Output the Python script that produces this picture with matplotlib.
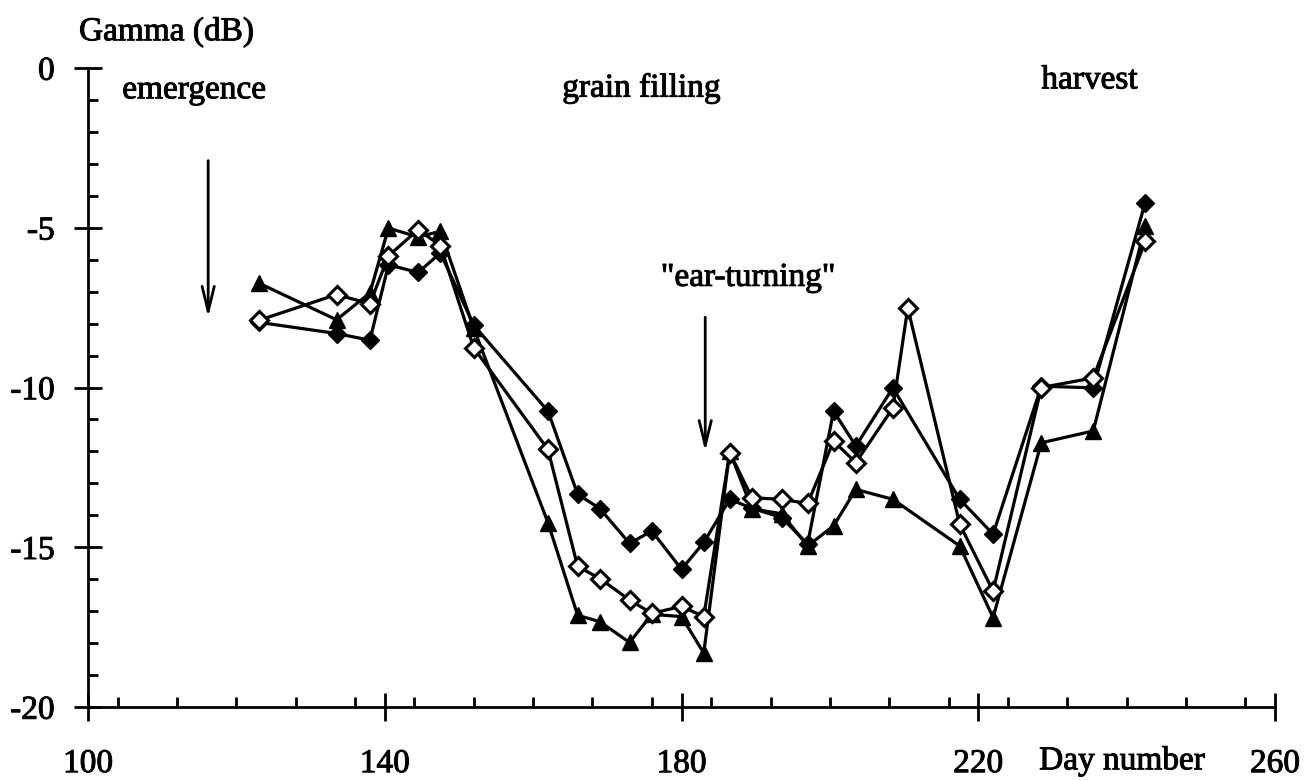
import matplotlib
matplotlib.use("Agg")
import matplotlib.pyplot as plt
import matplotlib.patheffects as pe
from matplotlib.ticker import MultipleLocator, FixedLocator

plt.rcParams["font.family"] = ["Liberation Serif", "DejaVu Serif"]
plt.rcParams["axes.unicode_minus"] = False

# sampling days and backscatter (dB) for the three fields
days = [123, 133.5, 138, 140.5, 144.5, 147.5, 152, 162, 166, 169, 173, 176,
        180, 183, 186.5, 189.5, 193.5, 197, 200.5, 203.5, 208.5, 217.5, 222,
        228.5, 235.5, 242.5]
gamma_filled = [-7.96, -8.31, -8.52, -6.16, -6.40, -5.79, -8.05, -10.74,
                -13.34, -13.79, -14.88, -14.49, -15.69, -14.85, -13.5, -13.78,
                -14.07, -14.9, -10.74, -11.83, -10.01, -13.5, -14.59, -9.96,
                -10.01, -4.21]
gamma_triangle = [-6.73, -7.88, -7.04, -5.01, -5.29, -5.11, -8.15, -14.23,
                  -17.13, -17.33, -17.98, -17.1, -17.17, -18.31, -12.0, -13.8,
                  -13.95, -14.96, -14.33, -13.19, -13.5, -14.96, -17.2, -11.73,
                  -11.36, -4.96]

# the open-diamond field has one extra date (210.5)
days_open = [123, 133.5, 138, 140.5, 144.5, 147.5, 152, 162, 166, 169, 173,
             176, 180, 183, 186.5, 189.5, 193.5, 197, 200.5, 203.5, 208.5,
             210.5, 217.5, 222, 228.5, 235.5, 242.5]
gamma_open = [-7.9, -7.09, -7.38, -5.88, -5.06, -5.56, -8.76, -11.94, -15.60,
              -15.98, -16.65, -17.07, -16.85, -17.17, -12.04, -13.45, -13.5,
              -13.63, -11.68, -12.35, -10.64, -7.51, -14.28, -16.37, -10.0,
              -9.70, -5.43]

x_ticks = [100, 140, 180, 220, 260]
y_ticks = [0, -5, -10, -15, -20]
y_labels = ["0", "-5", "-10", "-15", "-20"]

# (label, x, y) for stage annotations
stage_labels = [
    ("emergence", 114.3, -0.69),
    ("grain filling", 174.6, -0.63),
    ("harvest", 235.0, -0.38),
    ('"ear-turning"', 189.0, -6.56),
]
# vertical arrows: (day, start gamma, tip gamma)
arrows = [(116.2, -2.9, -7.8), (183.2, -7.8, -12.0)]

FS = 24
heavy = [pe.withStroke(linewidth=0.7, foreground="black")]

fig = plt.figure(figsize=(13.13, 7.81), dpi=100)
ax = fig.add_axes([88 / 1313, 74 / 781, (1275 - 88) / 1313, (707 - 68) / 781])

line_kw = dict(color="black", linewidth=2.3, markeredgecolor="black", clip_on=False)
ax.plot(days, gamma_triangle, marker="^", markersize=11.5, markerfacecolor="black",
        zorder=3, **line_kw)
ax.plot(days, gamma_filled, marker="D", markersize=9.5, markerfacecolor="black",
        zorder=4, **line_kw)
ax.plot(days_open, gamma_open, marker="D", markersize=9.5, markerfacecolor="white",
        markeredgewidth=2.2, zorder=5, **line_kw)

for day, y0, y1 in arrows:
    ax.annotate("", xy=(day, y1), xytext=(day, y0),
                arrowprops=dict(arrowstyle="->,head_length=0.9,head_width=0.22",
                                color="black", linewidth=2, mutation_scale=20,
                                shrinkA=0, shrinkB=0))

for text, x, y in stage_labels:
    ax.text(x, y, text, fontsize=FS, ha="center", va="center", path_effects=heavy)

ax.text(110.6, 1.13, "Gamma (dB)", fontsize=FS, ha="center", va="center",
        clip_on=False, path_effects=heavy)
ax.text(239.4, -21.95, "Day number", fontsize=FS, ha="center", va="baseline",
        clip_on=False, path_effects=heavy)

ax.set_xlim(100, 260)
ax.set_ylim(-20, 0)
for side in ("top", "right"):
    ax.spines[side].set_visible(False)
for side in ("left", "bottom"):
    ax.spines[side].set_linewidth(2)

ax.xaxis.set_major_locator(FixedLocator(x_ticks))
ax.xaxis.set_minor_locator(MultipleLocator(8))
ax.yaxis.set_major_locator(FixedLocator(y_ticks))
ax.set_yticklabels(y_labels)
ax.yaxis.set_minor_locator(MultipleLocator(1))

ax.tick_params(axis="both", which="major", direction="inout", length=20,
               width=2, labelsize=FS)
ax.tick_params(axis="both", which="minor", direction="in", length=7, width=2)
ax.tick_params(axis="x", which="major", pad=20)
ax.tick_params(axis="y", which="major", pad=14)
for lbl in ax.get_xticklabels() + ax.get_yticklabels():
    lbl.set_path_effects(heavy)

fig.savefig("out.png", dpi=100)
